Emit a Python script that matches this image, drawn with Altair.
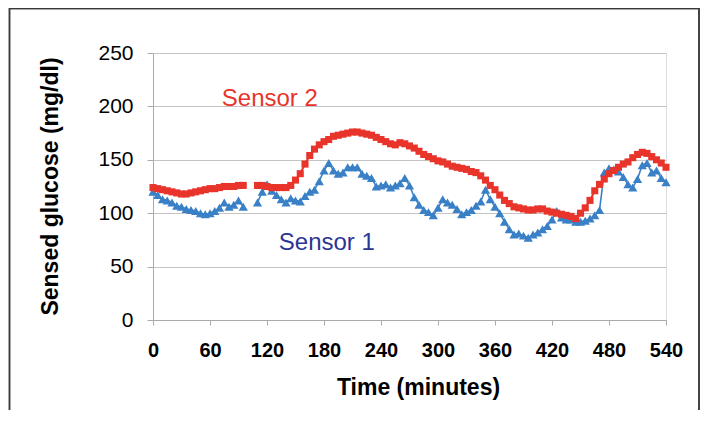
import altair as alt
import pandas as pd

# ---- data (5-minute readings; None = missing) ----
times = list(range(0, 545, 5))

sensor1 = [120, 117, 113, 112, 110, 107, 106, 104, 103, 102,
           100, 99, 100, 102, 105, 110, 106, 108, 112, 106,
           None, None,
           110, 120, 127, 121, 117, 113, 110, 114, 112, 111,
           116, 120, 122, 130, 140, 147, 140, 137, 138, 143,
           143, 143, 137, 135, 133, 125, 126, 127, 124, 126,
           128, 133, 126, 115, 108, 103, 101, 98, 105, 113,
           110, 108, 104, 99, 101, 103, 107, 111, 122, 113,
           106, 100, 92, 85, 80, 81, 79, 77, 80, 82,
           85, 88, 94, 102, 96, 94, 94, 92, 92, 93,
           95, 98, 103, 138, 142, 141, 139, 134, 127, 124,
           132, 145, 147, 138, 140, 133, 129]

sensor2 = [124, 123, 122, 121, 120, 119, 118, 118, 119, 120,
           121, 122, 123, 123, 124, 125, 125, 125, 126, 126,
           None, None,
           126, 126, 125, 124, 124, 124, 124, 126, 131, 137,
           146, 154, 160, 164, 167, 169, 172, 173, 174, 175,
           176, 176, 175, 174, 173, 171, 169, 167, 165, 164,
           166, 165, 163, 161, 158, 155, 153, 151, 149, 148,
           146, 144, 143, 142, 141, 139, 138, 135, 131, 126,
           122, 117, 112, 109, 106, 105, 104, 103, 103, 104,
           104, 102, 101, 100, 99, 98, 97, 95, 100, 105,
           112, 121, 127, 132, 137, 140, 143, 146, 148, 152,
           155, 157, 156, 153, 150, 147, 143]

series_names = ["Sensor 1", "Sensor 2"]
x_ticks = [0, 60, 120, 180, 240, 300, 360, 420, 480, 540]
y_ticks = [0, 50, 100, 150, 200, 250]

label_texts = ["Sensor 2", "Sensor 1"]
label_times = [123, 183]
label_values = [200, 66]

rows = []
for name, vals in zip(series_names, [sensor1, sensor2]):
    for t, v in zip(times, vals):
        if v is None:
            continue
        rows.append({"time": t, "value": v, "series": name,
                     "segment": 0 if t < 100 else 1})
df = pd.DataFrame(rows)
labels = pd.DataFrame({"text": label_texts, "time": label_times,
                       "value": label_values})

FONT = "Liberation Sans"
RED = "#e8342b"
BLUE = "#3a80c6"
NAVY = "#2c3591"

x_enc = alt.X("time:Q", scale=alt.Scale(domain=[0, 540], nice=False),
              axis=alt.Axis(values=x_ticks, grid=False, title="Time (minutes)",
                            labelFont=FONT, labelFontSize=20, labelFontWeight="bold",
                            labelColor="black", labelPadding=15,
                            labelFlush=False, labelOverlap=False, labelBound=False,
                            tickSize=5, tickColor="#aaaaaa",
                            domainColor="#aaaaaa",
                            titleFont=FONT, titleFontSize=23, titleFontWeight="bold",
                            titleColor="black", titleX=265, titleY=67,
                            titleBaseline="middle"))
y_enc = alt.Y("value:Q", scale=alt.Scale(domain=[0, 250], nice=False),
              axis=alt.Axis(values=y_ticks, grid=True, gridColor="#c4c4c4",
                            title="Sensed glucose (mg/dl)",
                            labelFont=FONT, labelFontSize=21, labelFontWeight="normal",
                            labelColor="black", labelPadding=14,
                            labelFlush=False, labelOverlap=False,
                            tickSize=6, tickColor="#aaaaaa", domainColor="#aaaaaa",
                            titleFont=FONT, titleFontSize=23, titleFontWeight="bold",
                            titleColor="black", titleX=-103, titleY=133,
                            titleBaseline="middle"))

base = alt.Chart(df)

blue_line = base.transform_filter(alt.datum.series == "Sensor 1").mark_line(
    color=BLUE, strokeWidth=1.6).encode(x=x_enc, y=y_enc, detail="segment:N")
blue_pts = base.transform_filter(alt.datum.series == "Sensor 1").mark_point(
    shape="triangle-up", filled=True, size=85, color=BLUE, opacity=1).encode(
    x="time:Q", y="value:Q")
red_line = base.transform_filter(alt.datum.series == "Sensor 2").mark_line(
    color=RED, strokeWidth=2).encode(x="time:Q", y="value:Q", detail="segment:N")
red_pts = base.transform_filter(alt.datum.series == "Sensor 2").mark_point(
    shape="square", filled=True, size=50, color=RED, opacity=1).encode(
    x="time:Q", y="value:Q")

text = alt.Chart(labels).mark_text(font=FONT, fontSize=24, align="center",
                                   baseline="alphabetic").encode(
    x="time:Q", y="value:Q", text="text:N",
    color=alt.Color("text:N", scale=alt.Scale(domain=label_texts, range=[RED, NAVY]),
                    legend=None))

frame = alt.Chart(labels).mark_rect(fill=None, stroke="#3a3a3a", strokeWidth=1.5,
                                    clip=False).encode(
    x=alt.value(-143.5), x2=alt.value(546), y=alt.value(-44.5), y2=alt.value(420))

chart = alt.layer(frame, blue_line, blue_pts, red_line, red_pts, text).properties(
    width=513, height=267,
    padding={"left": 145, "top": 45, "right": 35, "bottom": 90},
    autosize=alt.AutoSizeParams(type="none"),
).configure_view(strokeWidth=0).configure(background="white")

chart.save("out.html", embed_options={"renderer": "svg", "actions": False})
